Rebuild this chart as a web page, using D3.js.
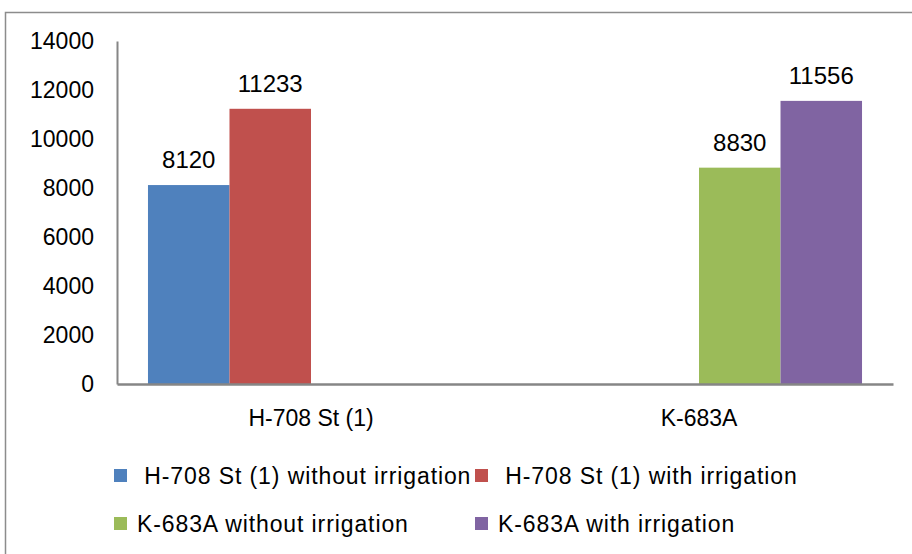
<!DOCTYPE html>
<html>
<head>
<meta charset="utf-8">
<script src="https://cdn.jsdelivr.net/npm/d3@7"></script>
<style>
  body { margin: 0; background: #fff; }
  text { font-family: "Liberation Sans", Arial, sans-serif; fill: #000; }
  .legend text { white-space: pre; }
</style>
</head>
<body>
<div id="chart"></div>
<script>
// Chart data
var categories = ["H-708 St (1)", "K-683A"];
var seriesNames = [
    " H-708 St (1) without irrigation",
    " H-708 St (1) with irrigation",
    "K-683A without irrigation",
    "K-683A with irrigation"
];
var seriesColors = ["#4f81bd", "#c0504d", "#9bbb59", "#8064a2"];
// values per series, one per category (null = no bar)
var h708Without = [8120, null];
var h708With = [11233, null];
var k683Without = [null, 8830];
var k683With = [null, 11556];
var yTicks = [0, 2000, 4000, 6000, 8000, 10000, 12000, 14000];

var seriesValues = [h708Without, h708With, k683Without, k683With];

function createChart() {
    var width = 912, height = 554;
    var plot = { left: 117, right: 893, top: 41, bottom: 384 };

    var svg = d3.select("#chart")
        .append("svg")
        .attr("width", width)
        .attr("height", height);

    // outer chart border
    svg.append("rect")
        .attr("x", 5.5).attr("y", 12.5)
        .attr("width", 920).attr("height", 560)
        .attr("fill", "none")
        .attr("stroke", "#8c8c8c")
        .attr("stroke-width", 1.5);

    var xScale = d3.scaleBand()
        .domain(categories)
        .range([plot.left, plot.right])
        .paddingInner(0)
        .paddingOuter(0);

    var xInner = d3.scaleBand()
        .domain(d3.range(seriesNames.length))
        .range([0, xScale.bandwidth()])
        .paddingOuter(0.38)
        .paddingInner(0);

    var yScale = d3.scaleLinear()
        .domain([0, 14000])
        .range([plot.bottom, plot.top]);

    // y axis
    var yAxis = svg.append("g")
        .attr("transform", "translate(" + plot.left + ",0)")
        .call(d3.axisLeft(yScale).tickValues(yTicks).tickSize(0).tickPadding(23).tickFormat(d3.format("d")));
    yAxis.select(".domain").attr("stroke", "#868686").attr("stroke-width", 2);
    yAxis.selectAll("text")
        .style("font-size", "23px")
        .attr("fill", "#000");

    // bars
    seriesValues.forEach(function (vals, si) {
        var data = categories.map(function (c, ci) { return { cat: c, v: vals[ci] }; })
            .filter(function (d) { return d.v != null; });

        svg.selectAll(".bar-" + si)
            .data(data)
            .enter()
            .append("rect")
            .attr("x", function (d) { return xScale(d.cat) + xInner(si); })
            .attr("y", function (d) { return yScale(d.v); })
            .attr("width", xInner.bandwidth())
            .attr("height", function (d) { return yScale(0) - yScale(d.v); })
            .attr("fill", seriesColors[si]);

        svg.selectAll(".lbl-" + si)
            .data(data)
            .enter()
            .append("text")
            .attr("x", function (d) { return xScale(d.cat) + xInner(si) + xInner.bandwidth() / 2; })
            .attr("y", function (d) { return yScale(d.v) - 17; })
            .attr("text-anchor", "middle")
            .style("font-size", "24px")
            .text(function (d) { return d.v; });
    });

    // x axis
    var xAxis = svg.append("g")
        .attr("transform", "translate(0," + plot.bottom + ")")
        .call(d3.axisBottom(xScale).tickSize(0).tickPadding(26));
    xAxis.select(".domain").attr("stroke", "#868686").attr("stroke-width", 2.5);
    xAxis.selectAll("text")
        .style("font-size", "23px")
        .attr("fill", "#000");

    // legend
    var legendPos = [[114, 476], [475, 476], [114, 524], [475, 524]];
    var legend = svg.append("g").attr("class", "legend");
    seriesNames.forEach(function (name, i) {
        var g = legend.append("g")
            .attr("transform", "translate(" + legendPos[i][0] + "," + legendPos[i][1] + ")");
        g.append("rect")
            .attr("x", 0).attr("y", -7)
            .attr("width", 13).attr("height", 13)
            .attr("fill", seriesColors[i]);
        g.append("text")
            .attr("x", 23)
            .attr("y", 0)
            .attr("dy", "0.35em")
            .style("font-size", "23px")
            .style("letter-spacing", "0.9px")
            .text(name);
    });
}

createChart();
</script>
</body>
</html>
